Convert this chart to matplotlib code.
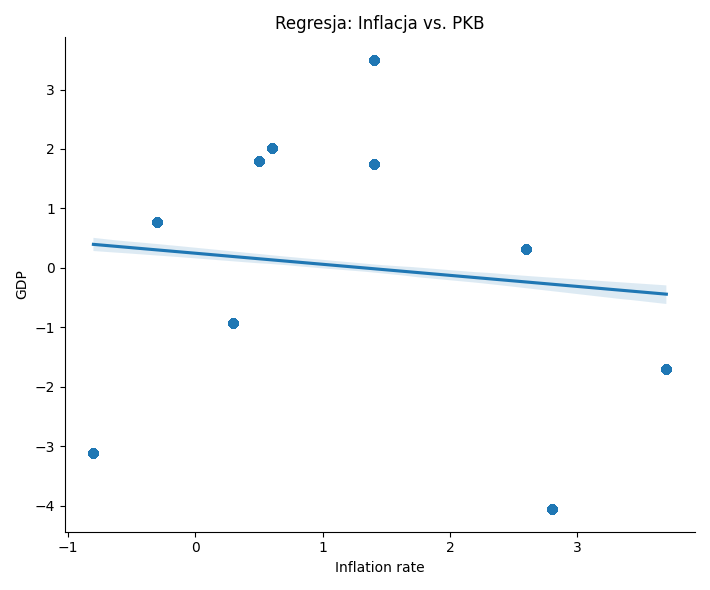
import numpy as np
import pandas as pd
import matplotlib
matplotlib.use("Agg")
import matplotlib.pyplot as plt
import seaborn as sns

inflation = [-0.8, -0.3, 0.3, 0.5, 0.6, 1.4, 1.4, 2.6, 2.8, 3.7]
gdp = [-3.12, 0.78, -0.93, 1.79, 2.01, 3.50, 1.74, 0.32, -4.06, -1.70]
repeats = [480, 400, 400, 400, 400, 400, 400, 400, 340, 400]

df = pd.DataFrame({
    "Inflation rate": np.repeat(inflation, repeats),
    "GDP": np.repeat(gdp, repeats),
})

fig, ax = plt.subplots(figsize=(7.1, 5.9))
sns.regplot(data=df, x="Inflation rate", y="GDP", ax=ax, n_boot=200, seed=0)
sns.despine(ax=ax)
ax.set_title("Regresja: Inflacja vs. PKB")
fig.tight_layout()
fig.savefig("out.png", dpi=100)
